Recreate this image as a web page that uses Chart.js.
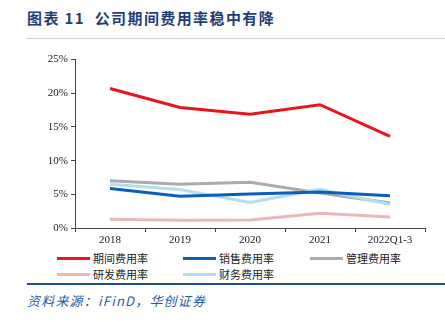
<!DOCTYPE html>
<html>
<head>
<meta charset="utf-8">
<script src="https://cdn.jsdelivr.net/npm/chart.js@4"></script>
<style>
  html, body { margin: 0; padding: 0; background: #fff; }
  body { width: 445px; height: 322px; position: relative; overflow: hidden; }
  #title { position: absolute; left: 27px; top: 7px; font: bold 15px "Noto Sans CJK SC", "Liberation Serif", serif; color: #1f3f7a; letter-spacing: 1.4px; }
  #topRule { position: absolute; left: 27px; right: 0; top: 38px; height: 1px; background: #c9d3e0; }
  #wrap { position: absolute; left: 0; top: 50px; width: 445px; height: 200px; }
  #legend { position: absolute; left: 0; top: 250px; width: 445px; font: 11px "Noto Sans CJK SC", sans-serif; color: #222; }
  .item { position: absolute; display: flex; align-items: center; height: 14px; }
  .swatch { width: 33px; height: 3px; margin-right: 3px; }
  #bottomRule { position: absolute; left: 27px; right: 0; top: 283px; height: 2px; background: #1f4e8c; }
  #source { position: absolute; left: 27px; top: 291px; font: italic 13px "Noto Sans CJK SC", "Liberation Serif", serif; color: #1f5faa; letter-spacing: 1.2px; }
</style>
</head>
<body>
<div id="title">图表 11&nbsp; 公司期间费用率稳中有降</div>
<div id="topRule"></div>
<div id="wrap"><canvas id="chart"></canvas></div>
<div id="legend"></div>
<div id="bottomRule"></div>
<div id="source">资料来源：iFinD，华创证券</div>
<script>
const categories = ['2018', '2019', '2020', '2021', '2022Q1-3'];
const seriesNames = ['期间费用率', '销售费用率', '管理费用率', '研发费用率', '财务费用率'];
const periodRate = [20.7, 17.9, 16.9, 18.3, 13.6];
const salesRate = [5.85, 4.7, 5.05, 5.35, 4.8];
const adminRate = [7.0, 6.5, 6.8, 5.2, 3.7];
const rdRate = [1.3, 1.15, 1.2, 2.2, 1.65];
const financeRate = [6.5, 5.7, 3.8, 5.75, 3.5];
const yTicks = [0, 5, 10, 15, 20, 25];

const colors = ['#e8151f', '#0a5fbd', '#ababab', '#ecb6ba', '#b5deed'];
const values = [periodRate, salesRate, adminRate, rdRate, financeRate];

// legend positions (two rows, three columns)
const legendSlots = [[57, 1], [183, 1], [310, 1], [57, 17], [183, 17]];
const legendEl = document.getElementById('legend');
seriesNames.forEach((name, i) => {
    const item = document.createElement('div');
    item.className = 'item';
    item.style.left = legendSlots[i][0] + 'px';
    item.style.top = legendSlots[i][1] + 'px';
    item.innerHTML = '<span class="swatch" style="background:' + colors[i] + '"></span>' + name;
    legendEl.appendChild(item);
});

const tickFont = { family: '"Liberation Serif", "Times New Roman", serif', size: 11 };

new Chart(document.getElementById('chart'), {
    type: 'line',
    data: {
        labels: categories,
        datasets: seriesNames.map((name, i) => ({
            label: name,
            data: values[i],
            borderColor: colors[i],
            backgroundColor: colors[i],
            borderWidth: 3,
            pointRadius: 0,
            tension: 0,
            order: i === 0 ? 0 : (i === 1 ? 1 : 5 - i)
        }))
    },
    options: {
        responsive: true,
        maintainAspectRatio: false,
        animation: false,
        layout: { padding: { top: 9, right: 20, left: 0, bottom: 0 } },
        plugins: { legend: { display: false }, tooltip: { enabled: false } },
        scales: {
            x: {
                offset: true,
                grid: { display: true, drawOnChartArea: false, offset: true, color: '#444', tickLength: 4 },
                border: { color: '#444', width: 1 },
                ticks: { color: '#222', font: tickFont, padding: 2, maxRotation: 0 },
                afterFit: axis => { axis.height = 22; }
            },
            y: {
                min: 0,
                max: 25,
                afterBuildTicks: axis => { axis.ticks = yTicks.map(v => ({ value: v })); },
                grid: { display: true, drawOnChartArea: false, color: '#444', tickLength: 4 },
                border: { color: '#444', width: 1 },
                ticks: { color: '#222', font: tickFont, padding: 3, callback: v => v + '%' },
                afterFit: axis => { axis.width = 75; }
            }
        }
    }
});
</script>
</body>
</html>
